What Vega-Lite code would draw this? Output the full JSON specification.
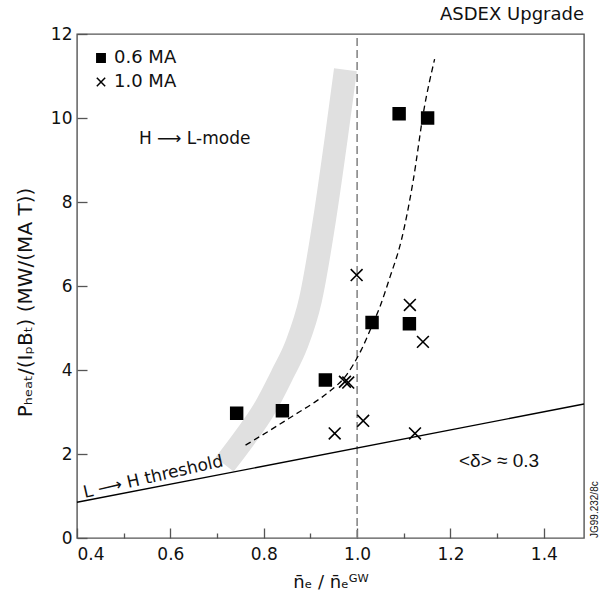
{
  "$schema": "https://vega.github.io/schema/vega-lite/v6.json",
  "width": 507,
  "height": 504,
  "autosize": {"type": "none"},
  "padding": {"left": 77, "top": 34, "right": 19, "bottom": 58},
  "background": "white",
  "title": {"text": "ASDEX Upgrade", "anchor": "end", "frame": "group", "fontSize": 18, "fontWeight": "normal", "font": "DejaVu Sans", "color": "#111", "offset": 0},
  "config": {
    "view": {"stroke": "#555", "strokeWidth": 1.4},
    "font": "DejaVu Sans",
    "axis": {"grid": false, "domain": false, "tickColor": "#555", "tickWidth": 1.3, "labelFont": "DejaVu Sans", "titleFont": "DejaVu Sans", "labelFontSize": 17, "titleFontSize": 18, "titleFontWeight": "normal", "labelColor": "#111", "titleColor": "#111"}
  },
  "datasets": {
    "band": [
      {"x": 0.716, "y": 1.75}, {"x": 0.76, "y": 2.4}, {"x": 0.80, "y": 3.05}, {"x": 0.84, "y": 3.9},
      {"x": 0.87, "y": 4.6}, {"x": 0.90, "y": 5.67}, {"x": 0.93, "y": 7.57}, {"x": 0.955, "y": 9.5}, {"x": 0.975, "y": 11.15}
    ],
    "curve": [
      {"x": 0.761, "y": 2.21}, {"x": 0.82, "y": 2.61}, {"x": 0.87, "y": 2.96}, {"x": 0.906, "y": 3.21},
      {"x": 0.942, "y": 3.50}, {"x": 0.975, "y": 3.85}, {"x": 1.009, "y": 4.48}, {"x": 1.034, "y": 5.11},
      {"x": 1.049, "y": 5.51}, {"x": 1.07, "y": 6.2}, {"x": 1.095, "y": 7.1}, {"x": 1.12, "y": 8.5},
      {"x": 1.143, "y": 10.19}, {"x": 1.166, "y": 11.4}
    ],
    "threshold": [{"x": 0.4, "y": 0.85}, {"x": 1.486, "y": 3.19}],
    "vline": [{"x": 1.0, "y": 0, "y2": 12}],
    "points": [
      {"x": 0.742, "y": 2.97, "series": "0.6 MA"},
      {"x": 0.840, "y": 3.03, "series": "0.6 MA"},
      {"x": 0.932, "y": 3.76, "series": "0.6 MA"},
      {"x": 1.032, "y": 5.13, "series": "0.6 MA"},
      {"x": 1.112, "y": 5.10, "series": "0.6 MA"},
      {"x": 1.090, "y": 10.10, "series": "0.6 MA"},
      {"x": 1.151, "y": 10.00, "series": "0.6 MA"},
      {"x": 0.952, "y": 2.49, "series": "1.0 MA"},
      {"x": 0.974, "y": 3.72, "series": "1.0 MA"},
      {"x": 0.981, "y": 3.70, "series": "1.0 MA"},
      {"x": 0.999, "y": 6.26, "series": "1.0 MA"},
      {"x": 1.013, "y": 2.79, "series": "1.0 MA"},
      {"x": 1.124, "y": 2.49, "series": "1.0 MA"},
      {"x": 1.113, "y": 5.55, "series": "1.0 MA"},
      {"x": 1.141, "y": 4.67, "series": "1.0 MA"}
    ],
    "labels": [
      {"x": 0.652, "y": 9.5, "text": "H ⟶ L-mode"}
    ],
    "delta": [
      {"x": 1.304, "y": 1.83, "text": "<δ> ≈ 0.3"}
    ],
    "thrlabel": [{"x": 0.4165, "y": 0.95, "text": "L ⟶ H threshold"}],
    "code": [{"x": 1.4986, "y": 0.0, "text": "JG99.232/8c"}]
  },
  "encoding": {
    "x": {"field": "x", "type": "quantitative", "scale": {"domain": [0.4, 1.486], "nice": false, "zero": false},
      "axis": {"title": "n̄ₑ / n̄ₑᴳᵂ", "values": [0.4, 0.5, 0.6, 0.7, 0.8, 0.9, 1.0, 1.1, 1.2, 1.3, 1.4],
        "labelExpr": "round(datum.value*10)%2==1 ? '' : format(datum.value,'.1f')",
        "offset": -10, "tickSize": 10,
        "tickDash": {"condition": {"test": "round(datum.value*10)%2==1", "value": [0, 5, 5]}, "value": [10, 0]},
        "labelPadding": 8, "titlePadding": 11}},
    "y": {"field": "y", "type": "quantitative", "scale": {"domain": [0, 12], "nice": false, "zero": false},
      "axis": {"title": "Pₕₑₐₜ/(IₚBₜ) (MW/(MA T))", "values": [0, 2, 4, 6, 8, 10, 12], "format": "d",
        "offset": -10, "tickSize": 10, "labelPadding": 5, "titlePadding": 15, "titleFontSize": 20, "titleY": 268}}
  },
  "layer": [
    {
      "data": {"name": "band"},
      "mark": {"type": "line", "color": "#e0e0e0", "strokeWidth": 23, "strokeCap": "butt", "interpolate": "monotone"}
    },
    {
      "data": {"name": "vline"},
      "mark": {"type": "rule", "color": "#808080", "strokeWidth": 1.5, "strokeDash": [8, 4]},
      "encoding": {"y2": {"field": "y2"}}
    },
    {
      "data": {"name": "threshold"},
      "mark": {"type": "line", "color": "black", "strokeWidth": 1.4}
    },
    {
      "data": {"name": "curve"},
      "mark": {"type": "line", "color": "black", "strokeWidth": 1.3, "strokeDash": [6, 4], "interpolate": "monotone"}
    },
    {
      "data": {"name": "points"},
      "mark": {"type": "point", "filled": true, "color": "black", "stroke": "black", "strokeWidth": 1.6, "size": 140, "opacity": 1},
      "encoding": {
        "shape": {"field": "series", "type": "nominal",
          "scale": {"domain": ["0.6 MA", "1.0 MA"], "range": ["square", "M-1,-1L1,1M1,-1L-1,1"]},
          "legend": {"title": null, "orient": "top-left", "offset": 15, "padding": 0, "symbolSize": 70,
            "labelFontSize": 18, "labelFont": "DejaVu Sans", "labelColor": "#111", "labelOffset": 4, "rowPadding": 6,
            "encode": {"symbols": {"update": {"fill": {"value": "black"}, "stroke": {"value": "black"}, "strokeWidth": {"value": 2.8}, "opacity": {"value": 1}}}}}}
      }
    },
    {
      "data": {"name": "labels"},
      "mark": {"type": "text", "fontSize": 17, "font": "DejaVu Sans", "color": "#111", "align": "center", "baseline": "middle"},
      "encoding": {"text": {"field": "text"}}
    },
    {
      "data": {"name": "delta"},
      "mark": {"type": "text", "fontSize": 19, "font": "Liberation Sans", "color": "#111", "align": "center", "baseline": "middle"},
      "encoding": {"text": {"field": "text"}}
    },
    {
      "data": {"name": "thrlabel"},
      "mark": {"type": "text", "fontSize": 17, "font": "DejaVu Sans", "color": "#111", "align": "left", "baseline": "alphabetic", "angle": 347},
      "encoding": {"text": {"field": "text"}}
    },
    {
      "data": {"name": "code"},
      "mark": {"type": "text", "fontSize": 10, "font": "Liberation Sans", "color": "#111", "align": "left", "baseline": "top", "angle": 270},
      "encoding": {"text": {"field": "text"}}
    }
  ]
}
